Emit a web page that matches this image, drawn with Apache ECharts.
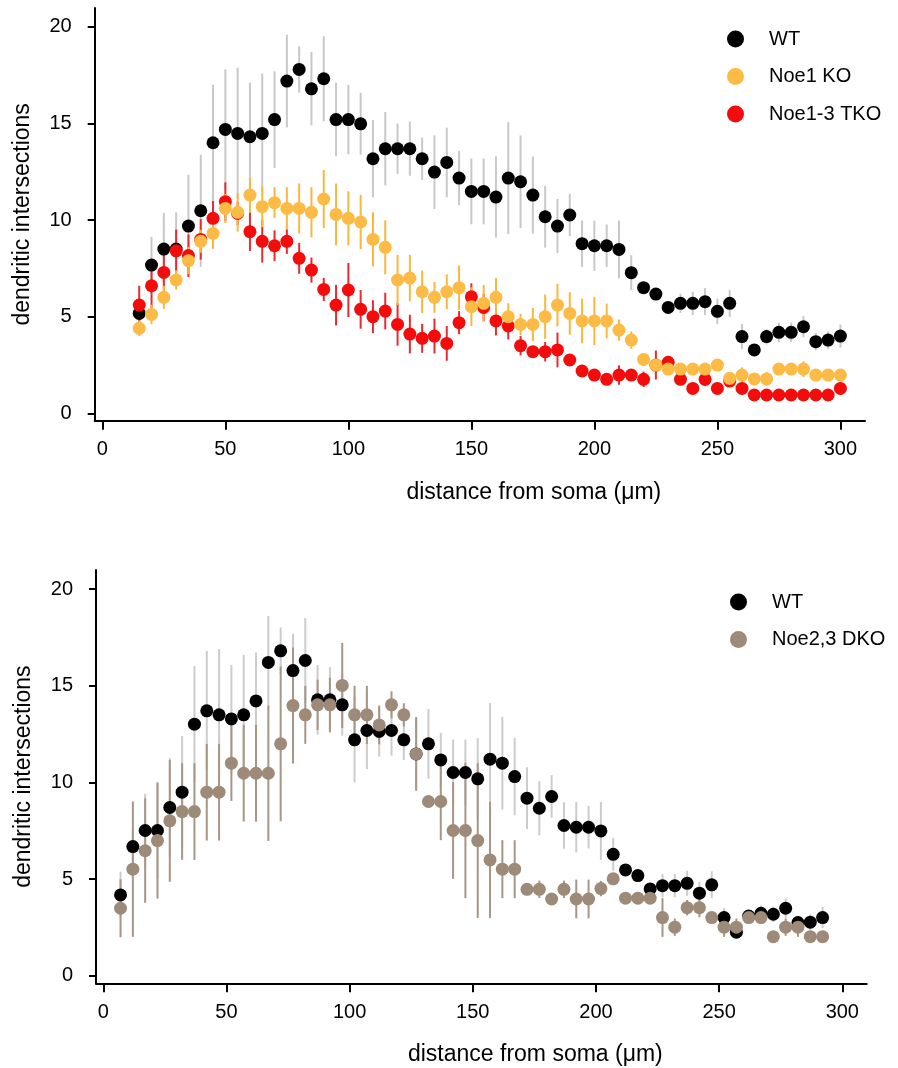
<!DOCTYPE html>
<html>
<head>
<meta charset="utf-8">
<script src="https://cdn.jsdelivr.net/npm/echarts@6/dist/echarts.min.js"></script>
<style>
  html, body { margin: 0; padding: 0; background: #fff; }
  #chart { width: 898px; height: 1068px; }
</style>
</head>
<body>
<div id="chart"></div>
<script>
// distance from soma (um), top panel
const topDist = [15, 20, 25, 30, 35, 40, 45, 50, 55, 60, 65, 70, 75, 80, 85, 90, 95, 100, 105, 110,
  115, 120, 125, 130, 135, 140, 145, 150, 155, 160, 165, 170, 175, 180, 185, 190, 195, 200, 205, 210,
  215, 220, 225, 230, 235, 240, 245, 250, 255, 260, 265, 270, 275, 280, 285, 290, 295, 300];

const wtTop = [5.17, 7.67, 8.5, 8.5, 9.69, 10.48, 14.0, 14.69, 14.48, 14.31, 14.48, 15.2, 17.19, 17.79, 16.79, 17.31, 15.2, 15.2, 14.98, 13.17,
  13.69, 13.69, 13.69, 13.17, 12.48, 12.98, 12.17, 11.48, 11.48, 11.19, 12.17, 11.98, 11.29, 10.17, 9.69, 10.26, 8.78, 8.67, 8.67, 8.48,
  7.28, 6.5, 6.17, 5.48, 5.69, 5.69, 5.78, 5.28, 5.69, 3.97, 3.28, 3.97, 4.19, 4.19, 4.48, 3.71, 3.79, 4.0];
const wtTopErr = [0.5, 1.46, 1.86, 1.9, 2.65, 2.9, 3.0, 3.1, 3.4, 2.8, 3.1, 2.5, 2.4, 1.2, 1.9, 2.2, 1.9, 1.8, 1.6, 2.0,
  1.9, 1.3, 1.4, 1.1, 1.9, 1.8, 1.4, 1.7, 1.7, 2.1, 2.9, 2.4, 2.0, 1.6, 1.4, 1.1, 1.2, 1.3, 1.1, 1.5,
  0.9, 0.3, 0.3, 0.3, 0.5, 0.6, 0.7, 0.65, 0.7, 0.65, 0.3, 0.4, 0.5, 0.5, 0.55, 0.45, 0.45, 0.6];

const koTop = [4.4, 5.12, 6.0, 6.9, 7.9, 8.9, 9.31, 10.6, 10.4, 11.29, 10.69, 10.9, 10.6, 10.6, 10.4, 11.09, 10.29, 10.09, 9.9, 9.0,
  8.59, 6.9, 7.0, 6.29, 6.0, 6.29, 6.5, 5.52, 5.69, 6.0, 5.0, 4.6, 4.6, 5.0, 5.6, 5.17, 4.78, 4.78, 4.78, 4.31,
  3.79, 2.79, 2.5, 2.29, 2.29, 2.29, 2.29, 2.5, 1.81, 1.98, 1.78, 1.78, 2.29, 2.29, 2.29, 1.98, 1.98, 1.98];
const koTopErr = [0.4, 0.5, 0.6, 0.5, 0.7, 0.6, 0.8, 0.75, 1.0, 0.9, 1.05, 0.8, 1.1, 1.3, 1.3, 1.5, 1.6, 1.4, 1.4, 1.4,
  1.4, 1.3, 1.2, 1.1, 0.8, 0.9, 1.15, 1.0, 0.95, 1.0, 0.7, 0.55, 0.85, 1.15, 1.1, 1.1, 1.15, 1.25, 0.9, 0.55,
  0.45, 0.2, 0.3, 0.3, 0.3, 0.3, 0.3, 0.2, 0.3, 0.4, 0.3, 0.35, 0.3, 0.3, 0.4, 0.2, 0.2, 0.2];

const tkoTop = [5.6, 6.6, 7.29, 8.41, 8.16, 9.0, 10.09, 10.95, 10.34, 9.4, 8.9, 8.67, 8.9, 8.02, 7.41, 6.41, 5.6, 6.38, 5.38, 5.0,
  5.29, 4.6, 4.1, 3.88, 4.0, 3.62, 4.69, 6.03, 5.48, 4.78, 4.52, 3.5, 3.19, 3.19, 3.28, 2.76, 2.19, 1.98, 1.76, 1.98,
  1.98, 1.76, 2.5, 2.64, 1.76, 1.29, 1.76, 1.29, 1.67, 1.29, 0.95, 0.95, 0.95, 0.95, 0.95, 0.95, 0.95, 1.29];
const tkoTopErr = [1.0, 1.15, 1.2, 1.1, 1.1, 1.05, 0.9, 1.0, 0.6, 1.0, 1.1, 0.8, 0.65, 0.8, 0.65, 0.6, 1.05, 1.4, 1.0, 0.85,
  0.95, 1.1, 1.0, 0.75, 0.9, 0.9, 0.6, 0.7, 0.7, 0.75, 0.7, 0.5, 0.3, 0.5, 0.9, 0.2, 0.2, 0.2, 0.2, 0.5,
  0.2, 0.4, 0.75, 0.3, 0.3, 0.2, 0.35, 0.2, 0.2, 0.2, 0.1, 0.1, 0.1, 0.1, 0.1, 0.1, 0.1, 0.2];

// distance from soma (um), bottom panel
const botDist = [7, 12, 17, 22, 27, 32, 37, 42, 47, 52, 57, 62, 67, 72, 77, 82, 87, 92, 97, 102,
  107, 112, 117, 122, 127, 132, 137, 142, 147, 152, 157, 162, 167, 172, 177, 182, 187, 192, 197, 202,
  207, 212, 217, 222, 227, 232, 237, 242, 247, 252, 257, 262, 267, 272, 277, 282, 287, 292];

const wtBot = [4.19, 6.69, 7.52, 7.52, 8.71, 9.5, 13.02, 13.71, 13.5, 13.29, 13.5, 14.22, 16.21, 16.81, 15.79, 16.31, 14.28, 14.28, 14.02, 12.21,
  12.69, 12.64, 12.69, 12.21, 11.48, 12.0, 11.17, 10.52, 10.52, 10.19, 11.21, 11.0, 10.31, 9.19, 8.67, 9.28, 7.78, 7.69, 7.69, 7.5,
  6.29, 5.48, 5.19, 4.5, 4.67, 4.67, 4.79, 4.28, 4.71, 3.02, 2.26, 3.1, 3.24, 3.19, 3.5, 2.76, 2.78, 3.02];
const wtBotErr = [1.2, 0.9, 1.9, 2.5, 2.55, 2.9, 3.0, 3.1, 3.4, 2.8, 3.1, 2.5, 2.4, 1.2, 1.9, 2.2, 1.8, 1.7, 1.6, 2.2,
  2.0, 1.3, 1.3, 1.05, 1.9, 1.8, 1.4, 1.7, 1.7, 2.1, 2.9, 2.4, 2.0, 1.6, 1.4, 1.1, 1.2, 1.3, 1.1, 1.5,
  0.85, 0.3, 0.3, 0.3, 0.6, 0.6, 0.65, 0.6, 0.7, 0.5, 0.3, 0.3, 0.4, 0.4, 0.5, 0.3, 0.4, 0.55];

const dkoBot = [3.5, 5.52, 6.48, 7.0, 8.02, 8.5, 8.5, 9.5, 9.5, 11.0, 10.48, 10.48, 10.48, 12.0, 13.98, 13.5, 14.02, 14.02, 15.02, 13.5,
  13.5, 12.98, 14.02, 13.5, 11.48, 9.02, 9.02, 7.52, 7.52, 7.0, 6.0, 5.52, 5.52, 4.48, 4.48, 3.98, 4.48, 3.98, 3.98, 4.52,
  5.02, 4.02, 4.02, 4.02, 3.02, 2.52, 3.53, 3.53, 3.02, 2.52, 2.52, 3.02, 3.02, 2.03, 2.52, 2.52, 2.03, 2.03];
const dkoBotErr = [1.5, 3.5, 2.7, 3.0, 3.15, 2.5, 2.5, 2.5, 2.5, 1.95, 2.5, 2.5, 3.5, 4.0, 3.0, 1.5, 1.3, 1.4, 2.2, 1.5,
  1.5, 1.0, 0.7, 0.6, 1.9, 0.3, 2.0, 2.5, 3.5, 4.0, 3.0, 1.5, 1.5, 0.3, 0.45, 0.2, 0.45, 1.0, 1.0, 0.4,
  0.2, 0.1, 0.1, 0.1, 1.0, 0.45, 0.4, 0.5, 0.2, 0.5, 0.45, 0.2, 0.2, 0.1, 0.45, 0.5, 0.1, 0.1];

const xTicks = [0, 50, 100, 150, 200, 250, 300];
const yTicks = [0, 5, 10, 15, 20];

const FONT = 'Liberation Sans, Arial, Helvetica, sans-serif';

function points(xs, ys) {
  return xs.map((x, i) => [x, ys[i]]);
}

function bars(xs, ys, es) {
  return xs.map((x, i) => [x, ys[i] - es[i], ys[i] + es[i]]);
}

function errSeries(name, idx, data, color) {
  return {
    name: name,
    type: 'custom',
    xAxisIndex: idx,
    yAxisIndex: idx,
    data: data,
    encode: { x: 0, y: [1, 2] },
    silent: true,
    renderItem: (params, api) => {
      const lo = api.coord([api.value(0), api.value(1)]);
      const hi = api.coord([api.value(0), api.value(2)]);
      return {
        type: 'line',
        shape: { x1: lo[0], y1: lo[1], x2: hi[0], y2: hi[1] },
        style: { stroke: color, lineWidth: 2 }
      };
    }
  };
}

function dotSeries(name, idx, data, color) {
  return {
    name: name,
    type: 'scatter',
    xAxisIndex: idx,
    yAxisIndex: idx,
    data: data,
    symbol: 'circle',
    symbolSize: 13,
    itemStyle: { color: color, opacity: 1 }
  };
}

function xAxisFor(idx, min, max) {
  return {
    type: 'value',
    gridIndex: idx,
    min: min,
    max: max,
    name: 'distance from soma (\u03bcm)',
    nameLocation: 'middle',
    nameGap: 60,
    nameTextStyle: { fontFamily: FONT, fontSize: 23, color: '#000', padding: [0, 0, 0, 108] },
    axisLine: { show: true, onZero: false, lineStyle: { color: '#000', width: 2 } },
    axisTick: { show: true, length: 9, customValues: xTicks, lineStyle: { color: '#000', width: 2 } },
    axisLabel: { customValues: xTicks, margin: 19, fontFamily: FONT, fontSize: 20, color: '#000' },
    splitLine: { show: false }
  };
}

function yAxisFor(idx, min, max) {
  return {
    type: 'value',
    gridIndex: idx,
    min: min,
    max: max,
    name: 'dendritic intersections',
    nameLocation: 'middle',
    nameGap: 61,
    nameTextStyle: { fontFamily: FONT, fontSize: 23, color: '#000' },
    axisLine: { show: true, onZero: false, lineStyle: { color: '#000', width: 2 } },
    axisTick: { show: true, length: 7, customValues: yTicks, lineStyle: { color: '#000', width: 2 } },
    axisLabel: { customValues: yTicks, margin: 23, fontFamily: FONT, fontSize: 20, color: '#000' },
    splitLine: { show: false }
  };
}

function legendFor(names, left, top) {
  return {
    data: names.map(n => ({ name: n, icon: 'circle' })),
    orient: 'vertical',
    left: left,
    top: top,
    itemWidth: 17,
    itemHeight: 17,
    itemGap: 17.5,
    selectedMode: false,
    textStyle: { fontFamily: FONT, fontSize: 20, color: '#000', padding: [0, 0, 0, 20] }
  };
}

const chart = echarts.init(document.getElementById('chart'), null, { renderer: 'canvas' });

chart.setOption({
  backgroundColor: '#ffffff',
  animation: false,
  grid: [
    { left: 94.7, top: 8, width: 770.3, height: 412.7 },
    { left: 96, top: 570, width: 770.7, height: 413.3 }
  ],
  xAxis: [xAxisFor(0, -3.1, 310), xAxisFor(1, -2.96, 309.9)],
  yAxis: [yAxisFor(0, -0.38, 20.97), yAxisFor(1, -0.38, 20.99)],
  legend: [
    legendFor(['WT', 'Noe1 KO', 'Noe1-3 TKO'], 722, 24),
    legendFor(['WT', 'Noe2,3 DKO'], 725, 587)
  ],
  series: [
    errSeries('WT err top', 0, bars(topDist, wtTop, wtTopErr), '#c8c8c8'),
    dotSeries('WT', 0, points(topDist, wtTop), '#000000'),
    errSeries('TKO err', 0, bars(topDist, tkoTop, tkoTopErr), '#ea2a30'),
    dotSeries('Noe1-3 TKO', 0, points(topDist, tkoTop), '#f20c0c'),
    errSeries('KO err', 0, bars(topDist, koTop, koTopErr), '#f8b83f'),
    dotSeries('Noe1 KO', 0, points(topDist, koTop), '#fbbb45'),
    errSeries('WT err bottom', 1, bars(botDist, wtBot, wtBotErr), '#cccccc'),
    dotSeries('WT', 1, points(botDist, wtBot), '#000000'),
    errSeries('DKO err', 1, bars(botDist, dkoBot, dkoBotErr), '#a69685'),
    dotSeries('Noe2,3 DKO', 1, points(botDist, dkoBot), '#9d8a78')
  ]
});
</script>
</body>
</html>
